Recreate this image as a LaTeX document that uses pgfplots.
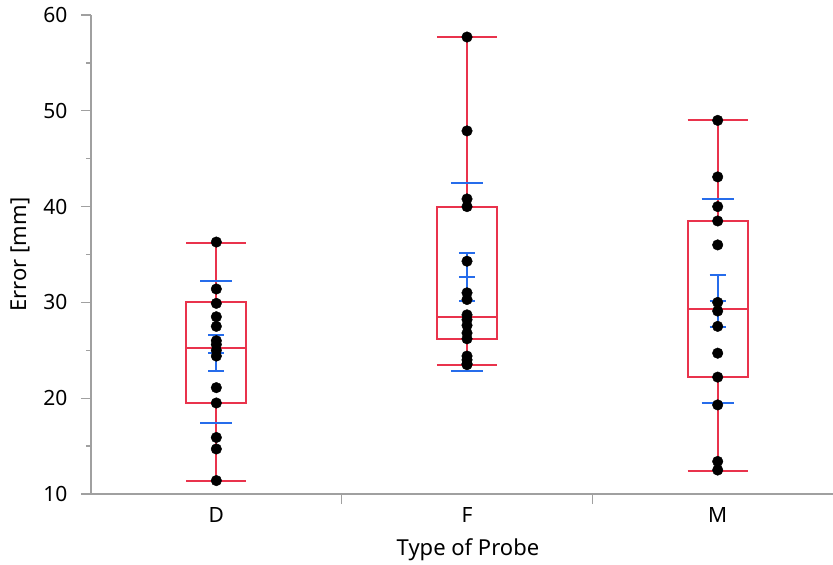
\documentclass[border=0pt]{standalone}
\usepackage{pgfplots}
\pgfplotsset{compat=1.18}
\usepackage{fontspec}
\setmainfont{Noto Sans}
\definecolor{boxred}{RGB}{233,51,76}
\definecolor{meanblue}{RGB}{38,108,235}
\definecolor{axgray}{RGB}{160,160,160}
\begin{document}
\begin{tikzpicture}
\useasboundingbox (-91pt,-71pt) rectangle (742pt,494pt);
\begin{axis}[
  at={(0,0)}, anchor=south west,
  scale only axis, width=742pt, height=479pt,
  xmin=-0.5, xmax=2.46, ymin=10, ymax=60,
  axis x line*=bottom, axis y line*=left,
  axis line style={-, axgray, line width=1.3pt},
  tick style={axgray, line width=1.3pt},
  tick align=outside,
  major tick length=10pt, minor tick length=5pt,
  ytick={10,20,...,60}, minor ytick={15,25,...,55},
  xtick={0.5,1.5}, xticklabels={,},
  extra x ticks={0,1,2}, extra x tick labels={D,F,M},
  extra x tick style={tick style={draw=none}},
  /pgf/number format/assume math mode=true,
  ticklabel style={font=\fontsize{21}{25}\selectfont, text=black},
  yticklabel style={xshift=-10pt},
  xlabel={Type of Probe}, ylabel={Error [mm]},
  every axis x label/.style={at={(axis description cs:0.508,0)}, yshift=-56pt, anchor=center, font=\fontsize{22}{26}\selectfont},
  every axis y label/.style={at={(axis description cs:0,0.5)}, xshift=-71pt, rotate=90, anchor=center, font=\fontsize{22}{26}\selectfont},
  clip=false,
  unbounded coords=jump,
]
% individual points
\addplot[only marks, mark=*, mark size=5.3pt, mark options={fill=black, draw=black}] coordinates {
 (0,36.3) (0,31.4) (0,29.9) (0,28.5) (0,27.5) (0,26.0) (0,25.6) (0,25.0) (0,24.4) (0,21.1) (0,19.5) (0,15.9) (0,14.7) (0,11.4)
 (1,57.7) (1,47.9) (1,40.8) (1,40.0) (1,34.3) (1,31.0) (1,30.3) (1,28.7) (1,28.2) (1,27.6) (1,26.8) (1,26.2) (1,24.4) (1,24.0) (1,23.6) (1,23.5)
 (2,49.0) (2,43.1) (2,40.0) (2,38.5) (2,36.0) (2,30.0) (2,29.1) (2,27.5) (2,24.7) (2,22.2) (2,19.3) (2,13.4) (2,12.5)
};
% box plots: box, median, whiskers, caps
\addplot[boxred, line width=2pt, mark=none, line join=miter] coordinates {
 (-0.12,19.5) (0.12,19.5) (0.12,30.0) (-0.12,30.0) (-0.12,19.5) (0.12,19.5) (nan,nan)
 (-0.12,25.2) (0.12,25.2) (nan,nan)
 (0,11.4) (0,19.5) (nan,nan) (0,30.0) (0,36.2) (nan,nan)
 (-0.12,11.4) (0.12,11.4) (nan,nan) (-0.12,36.2) (0.12,36.2)
};
\addplot[boxred, line width=2pt, mark=none, line join=miter] coordinates {
 (0.88,26.2) (1.12,26.2) (1.12,40.0) (0.88,40.0) (0.88,26.2) (1.12,26.2) (nan,nan)
 (0.88,28.5) (1.12,28.5) (nan,nan)
 (1,23.5) (1,26.2) (nan,nan) (1,40.0) (1,57.7) (nan,nan)
 (0.88,23.5) (1.12,23.5) (nan,nan) (0.88,57.7) (1.12,57.7)
};
\addplot[boxred, line width=2pt, mark=none, line join=miter] coordinates {
 (1.88,22.25) (2.12,22.25) (2.12,38.5) (1.88,38.5) (1.88,22.25) (2.12,22.25) (nan,nan)
 (1.88,29.3) (2.12,29.3) (nan,nan)
 (2,12.43) (2,22.25) (nan,nan) (2,38.5) (2,49.0) (nan,nan)
 (1.88,12.43) (2.12,12.43) (nan,nan) (1.88,49.0) (2.12,49.0)
};
% mean +- standard error (vertical bar with caps and mean tick)
\addplot[meanblue, line width=2pt, mark=none] coordinates {
 (0,22.87) (0,26.63) (nan,nan) (-0.032,22.87) (0.032,22.87) (nan,nan) (-0.032,24.75) (0.032,24.75) (nan,nan) (-0.032,26.63) (0.032,26.63) (nan,nan)
 (1,30.17) (1,35.19) (nan,nan) (0.968,30.17) (1.032,30.17) (nan,nan) (0.968,32.68) (1.032,32.68) (nan,nan) (0.968,35.19) (1.032,35.19) (nan,nan)
 (2,27.47) (2,32.9) (nan,nan) (1.968,27.47) (2.032,27.47) (nan,nan) (1.968,30.18) (2.032,30.18) (nan,nan) (1.968,32.9) (2.032,32.9)
};
% mean +- standard deviation
\addplot[meanblue, line width=2pt, mark=none] coordinates {
 (-0.064,32.27) (0.064,32.27) (nan,nan) (-0.064,17.44) (0.064,17.44) (nan,nan)
 (0.936,42.5) (1.064,42.5) (nan,nan) (0.936,22.87) (1.064,22.87) (nan,nan)
 (1.936,40.83) (2.064,40.83) (nan,nan) (1.936,19.53) (2.064,19.53)
};
\end{axis}
\end{tikzpicture}
\end{document}
